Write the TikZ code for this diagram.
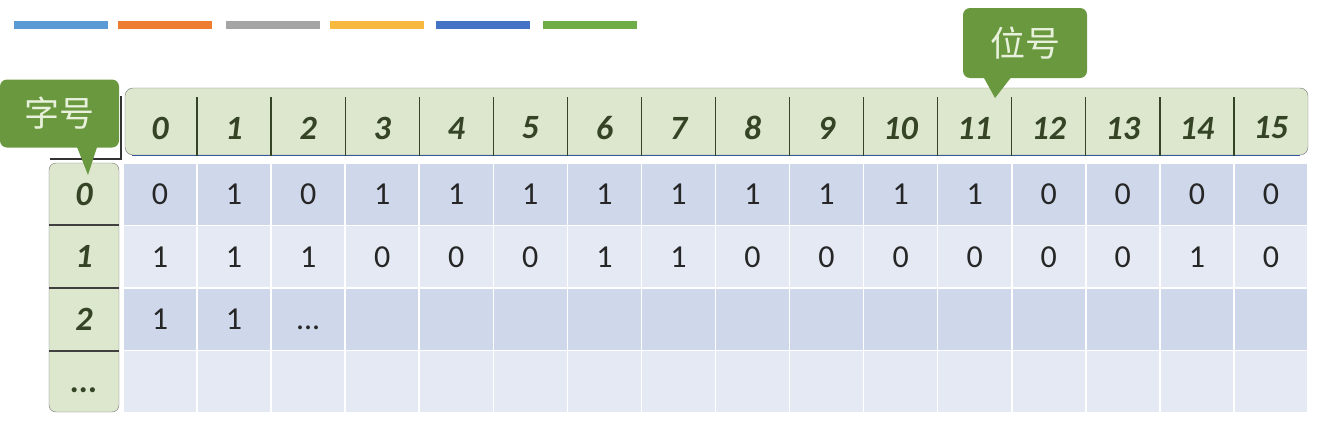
\documentclass[tikz,border=0pt]{standalone}
\usepackage{fontspec}
\setmainfont{Carlito}
\newfontfamily\cjk{Noto Sans CJK SC}
\usetikzlibrary{calc,positioning}
\definecolor{hd}{RGB}{221,231,206}   % fond vert clair (en-tetes)
\definecolor{cd}{RGB}{207,216,234}   % lignes foncees
\definecolor{cl}{RGB}{228,233,243}   % lignes claires
\definecolor{gr}{RGB}{106,152,62}    % bulles
\definecolor{tg}{RGB}{52,68,36}      % chiffres des en-tetes
\definecolor{tt}{RGB}{232,241,220}   % texte des bulles
\definecolor{barb}{RGB}{91,155,213}
\definecolor{baro}{RGB}{237,125,49}
\definecolor{barg}{RGB}{165,165,165}
\definecolor{bary}{RGB}{247,186,62}
\definecolor{bard}{RGB}{68,114,196}
\definecolor{barv}{RGB}{112,173,71}

\begin{document}
\begin{tikzpicture}[x=1pt,y=-1pt,
  hnum/.style={font=\fontsize{34}{34}\selectfont\bfseries\itshape,text=tg,inner sep=0pt},
  bit/.style={font=\fontsize{32}{32}\selectfont,text=black!85,inner sep=0pt},
  cell/.style={minimum width=72.5pt,minimum height=61pt,inner sep=0pt},
  tag/.style={fill=gr,rounded corners=7pt,text=tt,font=\cjk\fontsize{35}{35}\selectfont,inner sep=0pt}]
\useasboundingbox (0,0) rectangle (1337,437);
% barres de couleur
\foreach \x/\c in {14/barb,118/baro,226/barg,330/bary,436/bard,543/barv}
  \fill[\c] (\x,20.5) rectangle ++(94,8.5);
% cellules de donnees
\foreach \r/\col in {0/cd,1/cl,2/cd,3/cl}
  \foreach \c in {0,...,15}
    \node[cell,fill=\col](d-\r-\c)at({123+74.06*(\c+0.5)},{163+62.5*(\r+0.5)}){};
\foreach \v [count=\c from 0] in {0,1,0,1,1,1,1,1,1,1,1,1,0,0,0,0}
  \node[bit](b0-\c)at(d-0-\c){\v};
\foreach \v [count=\c from 0] in {1,1,1,0,0,0,1,1,0,0,0,0,0,0,1,0}
  \node[bit](b1-\c)at(d-1-\c){\v};
\node[bit](b2-0)at(d-2-0){1};
\node[bit](b2-1)at(d-2-1){1};
\node[bit](b2-2)at(d-2-2){\vphantom{1}...};
% en-tete des positions
\draw[fill=hd,draw=black!55,rounded corners=8pt](125,88)rectangle(1308,155);
\draw[bard!80!black](132,155)--(1300,155);
\foreach \i in {1,...,15}
  \draw[tg,line width=1.3pt]({123+74.06*\i},97)--({123+74.06*\i},156);
\foreach \i in {0,...,15}
  \node[hnum](h\i)at({123+74.06*(\i+0.5)},128){\i};
% colonne des mots
\draw[fill=hd,draw=black!55,rounded corners=7pt](49,163)rectangle(119,412);
\foreach \y in {225,288,351}
  \draw[black!75,line width=1.2pt](49,\y)--(119,\y);
\foreach \r in {0,1,2}
  \node[hnum](r\r)at(84,{163+62.5*(\r+0.5)}){\r};
\node[hnum](r3)at(84,382){\vphantom{1}...};
\draw[black!80,line width=1.5pt](121,96)--(121,159)--(50,159);
% bulles
\node[tag,minimum width=119pt,minimum height=68pt](zihao)at(59.5,113.5){字号};
\fill[gr]($(zihao.south)+(17,-2)$)--(88,175)--($(zihao.south)+(38,-2)$)--cycle;
\node[tag,minimum width=124pt,minimum height=70pt](weihao)at(1025,43){位号};
\fill[gr]($(weihao.south)+(-42,-2)$)--(995,98)--($(weihao.south)+(-13,-2)$)--cycle;
\end{tikzpicture}
\end{document}
